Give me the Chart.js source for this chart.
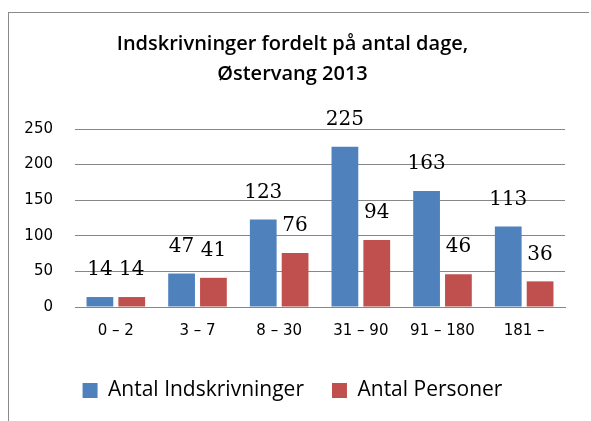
<!DOCTYPE html>
<html>
<head>
<meta charset="utf-8">
<script src="https://cdn.jsdelivr.net/npm/chart.js@4.4.0/dist/chart.umd.min.js"></script>
<style>
  html, body { margin: 0; padding: 0; background: #fff; }
  #wrap { position: relative; width: 591px; height: 421px; overflow: hidden; }
  #frame { position: absolute; left: 8px; top: 12px; width: 580px; height: 420px;
           border-left: 1px solid #8a8a8a; border-top: 1px solid #8a8a8a; }
  canvas { position: absolute; left: 0; top: 0; }
</style>
</head>
<body>
<div id="wrap">
  <div id="frame"></div>
  <canvas id="chart_first" width="591" height="421"></canvas>
</div>
<script>
// chart data
const categories = ['0 \u2013 2', '3 \u2013 7', '8 \u2013 30', '31 \u2013 90', '91 \u2013 180', '181 \u2013'];
const indskrivninger = [14, 47, 123, 225, 163, 113];
const personer = [14, 41, 76, 94, 46, 36];
const yTicks = [0, 50, 100, 150, 200, 250];

// draws the value above every bar
const valueLabels = {
    id: 'valueLabels',
    afterDatasetsDraw(chart) {
        const ctx = chart.ctx;
        ctx.save();
        ctx.font = '20px "DejaVu Serif"';
        ctx.fillStyle = '#000';
        ctx.textAlign = 'center';
        ctx.textBaseline = 'bottom';
        chart.data.datasets.forEach((ds, i) => {
            chart.getDatasetMeta(i).data.forEach((bar, j) => {
                ctx.fillText(ds.data[j], bar.x, bar.y - 17);
            });
        });
        ctx.restore();
    }
};

window.onload = () => {
    const ctx = document.getElementById('chart_first').getContext('2d');
    new Chart(ctx, {
        type: 'bar',
        data: {
            labels: categories,
            datasets: [
                {
                    label: 'Antal Indskrivninger',
                    backgroundColor: '#4f81bd',
                    data: indskrivninger
                },
                {
                    label: 'Antal Personer',
                    backgroundColor: '#c0504d',
                    data: personer
                }
            ]
        },
        plugins: [valueLabels],
        options: {
            responsive: false,
            animation: false,
            layout: { padding: { left: 20, right: 26, top: 8, bottom: 10 } },
            datasets: { bar: { categoryPercentage: 0.78, barPercentage: 0.84 } },
            plugins: {
                title: {
                    display: true,
                    text: ['Indskrivninger fordelt på antal dage,', 'Østervang 2013'],
                    color: '#000',
                    font: { family: '"Open Sans"', size: 20, weight: '600', lineHeight: 1.5 },
                    padding: { top: 21, bottom: 40 }
                },
                legend: {
                    position: 'bottom',
                    labels: {
                        color: '#000',
                        boxWidth: 15,
                        boxHeight: 15,
                        padding: 28,
                        font: { family: '"Open Sans"', size: 21 }
                    }
                },
                tooltip: { enabled: false }
            },
            scales: {
                x: {
                    afterFit: (s) => { s.height = 45; },
                    grid: { display: false },
                    border: { display: true, color: '#878787' },
                    ticks: { color: '#000', padding: 7, font: { family: '"DejaVu Sans"', size: 15 } }
                },
                y: {
                    min: 0,
                    max: 250,
                    afterFit: (s) => { s.width = 55; },
                    afterBuildTicks: (s) => { s.ticks = yTicks.map(v => ({ value: v })); },
                    grid: { color: '#878787', drawTicks: false },
                    border: { display: false },
                    ticks: { color: '#000', padding: 22, font: { family: '"DejaVu Sans"', size: 15 } }
                }
            }
        }
    });
}
</script>
</body>
</html>
